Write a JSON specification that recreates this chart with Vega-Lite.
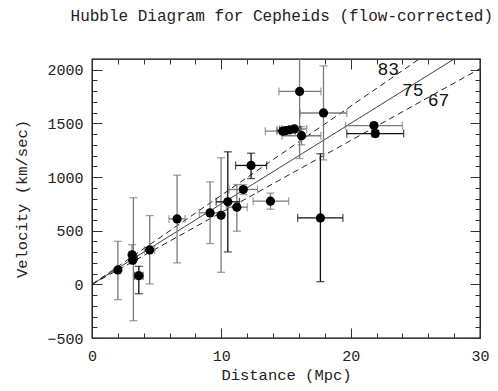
{
  "$schema": "https://vega.github.io/schema/vega-lite/v6.json",
  "width": 388,
  "height": 279,
  "autosize": {"type": "none"},
  "padding": {"left": 92, "top": 59, "right": 18, "bottom": 53},
  "background": "white",
  "title": {
    "text": "Hubble Diagram for Cepheids (flow-corrected)",
    "font": "Liberation Mono",
    "fontSize": 16,
    "fontWeight": "normal",
    "color": "#222",
    "anchor": "end",
    "dx": 4,
    "offset": 35
  },
  "config": {
    "view": {"stroke": "#000", "strokeWidth": 1.3},
    "axis": {
      "labelFont": "Liberation Mono",
      "labelFontSize": 15,
      "labelColor": "#222",
      "titleFont": "Liberation Mono",
      "titleFontSize": 15.5,
      "titleFontWeight": "normal",
      "titleColor": "#222",
      "domain": false,
      "grid": false,
      "tickColor": "#333",
      "tickWidth": 1
    }
  },
  "datasets": {
    "pts": [
      {"d": 2.0, "v": 134, "vlo": -143, "vhi": 401, "g": "g"},
      {"d": 3.1, "v": 275, "vlo": 190, "vhi": 370, "g": "g"},
      {"d": 3.2, "v": 240, "vlo": -339, "vhi": 807, "g": "g"},
      {"d": 3.15, "v": 225, "g": "g"},
      {"d": 3.62, "v": 81, "dlo": 3.3, "dhi": 3.95, "vlo": -87, "vhi": 168, "g": "k"},
      {"d": 4.46, "v": 321, "dlo": 4.05, "dhi": 4.85, "vlo": 4, "vhi": 641, "g": "g"},
      {"d": 6.58, "v": 610, "dlo": 5.95, "dhi": 7.2, "vlo": 200, "vhi": 1017, "g": "g"},
      {"d": 9.13, "v": 666, "dlo": 8.3, "dhi": 9.95, "vlo": 380, "vhi": 955, "g": "g"},
      {"d": 9.98, "v": 644, "vlo": 112, "vhi": 1179, "g": "g"},
      {"d": 10.5, "v": 769, "dlo": 9.6, "dhi": 11.4, "vlo": 302, "vhi": 1235, "g": "k"},
      {"d": 11.2, "v": 719, "dlo": 10.4, "dhi": 12.0, "vlo": 495, "vhi": 930, "g": "g"},
      {"d": 11.7, "v": 884, "dlo": 10.6, "dhi": 12.8, "vlo": 837, "vhi": 930, "g": "g"},
      {"d": 12.3, "v": 1108, "dlo": 11.1, "dhi": 13.5, "vlo": 986, "vhi": 1222, "g": "k"},
      {"d": 13.8, "v": 775, "dlo": 12.45, "dhi": 15.2, "vlo": 700, "vhi": 850, "g": "g"},
      {"d": 14.75, "v": 1427, "dlo": 13.4, "dhi": 16.1, "g": "g"},
      {"d": 15.0, "v": 1433, "dlo": 14.3, "dhi": 15.7, "g": "k"},
      {"d": 15.3, "v": 1440, "dlo": 14.5, "dhi": 16.1, "g": "k"},
      {"d": 15.65, "v": 1448, "dlo": 14.7, "dhi": 16.6, "g": "g"},
      {"d": 16.2, "v": 1385, "dlo": 14.7, "dhi": 17.7, "vlo": 1300, "vhi": 1470, "g": "g"},
      {"d": 16.05, "v": 1798, "dlo": 14.45, "dhi": 17.7, "vlo": 1173, "vhi": 2423, "g": "g"},
      {"d": 17.9, "v": 1597, "dlo": 16.1, "dhi": 19.7, "vlo": 1160, "vhi": 2036, "g": "g"},
      {"d": 17.66, "v": 619, "dlo": 15.9, "dhi": 19.4, "vlo": 25, "vhi": 1217, "g": "k"},
      {"d": 21.8, "v": 1480, "dlo": 19.6, "dhi": 24.0, "g": "g"},
      {"d": 21.9, "v": 1405, "dlo": 19.7, "dhi": 24.1, "vlo": 1375, "vhi": 1435, "g": "k"}
    ],
    "fits": [
      {"h": "83", "d": 0, "v": 0},
      {"h": "83", "d": 30, "v": 2490},
      {"h": "75", "d": 0, "v": 0},
      {"h": "75", "d": 30, "v": 2250},
      {"h": "67", "d": 0, "v": 0},
      {"h": "67", "d": 30, "v": 2010}
    ],
    "labs": [
      {"t": "83", "d": 22.9, "v": 1947},
      {"t": "75", "d": 24.8, "v": 1754},
      {"t": "67", "d": 26.8, "v": 1658}
    ]
  },
  "resolve": {"axis": {"x": "independent", "y": "independent"}},
  "layer": [
    {
      "data": {"name": "fits"},
      "mark": {"type": "line", "clip": true, "strokeWidth": 1, "color": "#222"},
      "encoding": {
        "x": {
          "field": "d", "type": "quantitative",
          "scale": {"domain": [0, 30], "nice": false, "zero": false},
          "axis": {
            "orient": "bottom",
            "title": "Distance (Mpc)",
            "values": [0, 2, 4, 6, 8, 10, 12, 14, 16, 18, 20, 22, 24, 26, 28, 30],
            "labelExpr": "datum.value % 10 === 0 ? datum.label : ''",
            "tickSize": {"condition": {"test": "datum.value % 10 === 0", "value": -10}, "value": -5},
            "labelPadding": 20,
            "labelFlush": false,
            "titlePadding": 4
          }
        },
        "y": {
          "field": "v", "type": "quantitative",
          "scale": {"domain": [-500, 2100], "nice": false, "zero": false},
          "axis": {
            "orient": "left",
            "title": "Velocity (km/sec)",
            "values": [-500, -400, -300, -200, -100, 0, 100, 200, 300, 400, 500, 600, 700, 800, 900, 1000, 1100, 1200, 1300, 1400, 1500, 1600, 1700, 1800, 1900, 2000],
            "labelExpr": "datum.value % 500 === 0 ? replace(datum.label, ',', '') : ''",
            "format": "d",
            "tickSize": {"condition": {"test": "datum.value % 500 === 0", "value": -10}, "value": -5},
            "labelPadding": 19,
            "labelFlush": false,
            "titlePadding": 17
          }
        },
        "detail": {"field": "h"},
        "strokeDash": {
          "field": "h", "type": "nominal",
          "scale": {"domain": ["83", "75", "67"], "range": [[6, 4], [1, 0], [6, 4]]},
          "legend": null
        }
      }
    },
    {
      "data": {"name": "pts"},
      "transform": [{"filter": "isValid(datum.vlo)"}],
      "mark": {"type": "errorbar", "clip": true, "thickness": 1.3, "ticks": {"size": 8, "thickness": 1.3}},
      "encoding": {
        "x": {"field": "d", "type": "quantitative", "axis": {"orient": "top", "labels": false, "title": null, "values": [0, 2, 4, 6, 8, 10, 12, 14, 16, 18, 20, 22, 24, 26, 28, 30], "tickSize": {"condition": {"test": "datum.value % 10 === 0", "value": -10}, "value": -5}}},
        "y": {"field": "vlo", "type": "quantitative", "axis": {"orient": "right", "labels": false, "title": null, "values": [-500, -400, -300, -200, -100, 0, 100, 200, 300, 400, 500, 600, 700, 800, 900, 1000, 1100, 1200, 1300, 1400, 1500, 1600, 1700, 1800, 1900, 2000], "tickSize": {"condition": {"test": "datum.value % 500 === 0", "value": -10}, "value": -5}}},
        "y2": {"field": "vhi"},
        "color": {"field": "g", "type": "nominal", "scale": {"domain": ["g", "k"], "range": ["#7a7a7a", "#111111"]}, "legend": null}
      }
    },
    {
      "data": {"name": "pts"},
      "transform": [{"filter": "isValid(datum.dlo)"}],
      "mark": {"type": "errorbar", "clip": true, "thickness": 1.3, "ticks": {"size": 8, "thickness": 1.3}},
      "encoding": {
        "y": {"field": "v", "type": "quantitative", "axis": null},
        "x": {"field": "dlo", "type": "quantitative", "axis": null},
        "x2": {"field": "dhi"},
        "color": {"field": "g", "type": "nominal", "legend": null}
      }
    },
    {
      "data": {"name": "pts"},
      "mark": {"type": "point", "filled": true, "opacity": 1, "size": 85, "color": "#000", "shape": "circle"},
      "encoding": {
        "x": {"field": "d", "type": "quantitative", "axis": null},
        "y": {"field": "v", "type": "quantitative", "axis": null}
      }
    },
    {
      "data": {"name": "labs"},
      "mark": {"type": "text", "font": "Liberation Mono", "fontSize": 18, "color": "#111", "align": "center", "baseline": "alphabetic"},
      "encoding": {
        "x": {"field": "d", "type": "quantitative", "axis": null},
        "y": {"field": "v", "type": "quantitative", "axis": null},
        "text": {"field": "t"}
      }
    }
  ]
}
